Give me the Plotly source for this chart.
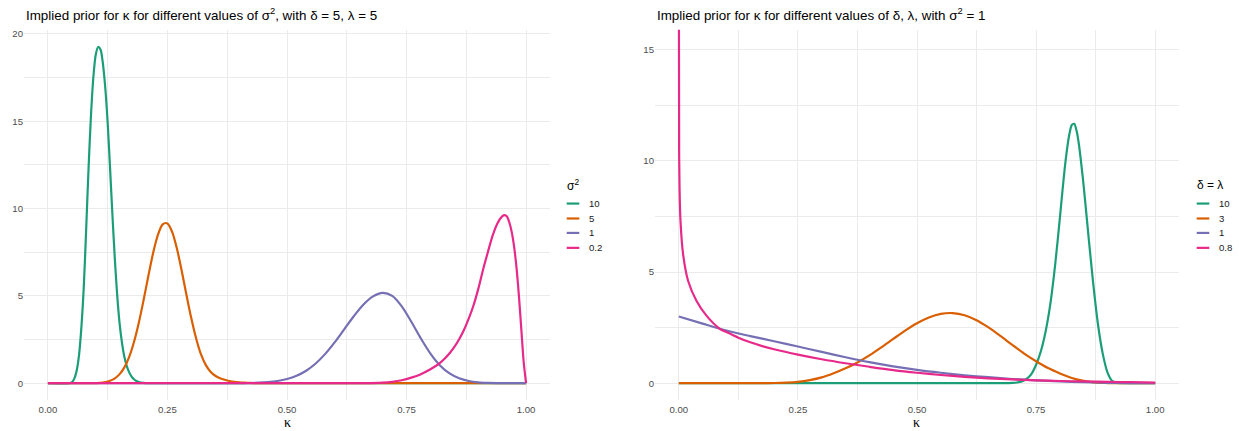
import plotly.graph_objects as go

# ---------------- data ----------------
# Left panel: delta = 5, lambda = 5, different sigma^2
left_names = ["10", "5", "1", "0.2"]
k_s10 = [0, 0.045, 0.05, 0.055, 0.06, 0.065, 0.07, 0.075, 0.08, 0.085, 0.09, 0.095, 0.10, 0.105,
         0.11, 0.115, 0.12, 0.125, 0.13, 0.135, 0.14, 0.145, 0.15, 0.155, 0.16, 0.165, 0.17,
         0.175, 0.18, 0.185, 0.19, 0.20, 0.21, 1.0]
d_s10 = [0, 0.0, 0.05, 0.25, 0.7, 1.6, 3.2, 5.5, 8.8, 12.3, 15.3, 17.5, 18.8, 19.25,
         19.1, 18.3, 16.9, 14.9, 12.3, 9.6, 7.1, 5.0, 3.4, 2.3, 1.5, 0.98, 0.62,
         0.38, 0.23, 0.13, 0.07, 0.02, 0.0, 0]
k_s5 = [0, 0.11, 0.12, 0.13, 0.14, 0.15, 0.16, 0.17, 0.18, 0.19, 0.20, 0.21, 0.22, 0.23, 0.24,
        0.25, 0.26, 0.27, 0.28, 0.29, 0.30, 0.31, 0.32, 0.33, 0.34, 0.35, 0.36, 0.37, 0.38,
        0.39, 0.40, 0.41, 0.42, 0.44, 0.46, 1.0]
d_s5 = [0, 0.02, 0.06, 0.14, 0.28, 0.52, 0.91, 1.51, 2.36, 3.45, 4.75, 6.14, 7.45, 8.49, 9.10,
        9.15, 8.65, 7.68, 6.41, 5.02, 3.70, 2.56, 1.66, 1.05, 0.66, 0.43, 0.29, 0.20, 0.13,
        0.08, 0.05, 0.03, 0.02, 0.005, 0.0, 0]
k_s1 = [0, 0.36, 0.40, 0.42, 0.44, 0.46, 0.48, 0.50, 0.52, 0.54, 0.56, 0.58, 0.60, 0.62, 0.64,
        0.66, 0.68, 0.70, 0.72, 0.74, 0.76, 0.78, 0.80, 0.82, 0.84, 0.86, 0.88, 0.90, 0.92,
        0.94, 0.96, 1.0]
d_s1 = [0, 0.0, 0.006, 0.013, 0.03, 0.064, 0.128, 0.241, 0.428, 0.717, 1.13, 1.68, 2.35, 3.10,
        3.85, 4.51, 4.97, 5.17, 5.00, 4.40, 3.52, 2.56, 1.70, 1.02, 0.56, 0.28, 0.127, 0.052,
        0.02, 0.007, 0.002, 0]
k_s02 = [0, 0.66, 0.70, 0.72, 0.74, 0.76, 0.78, 0.80, 0.81, 0.82, 0.83, 0.84, 0.85, 0.86, 0.87,
         0.88, 0.89, 0.90, 0.91, 0.92, 0.93, 0.94, 0.95, 0.955, 0.96, 0.965, 0.97, 0.975, 0.98,
         0.985, 0.99, 0.995, 1.0]
d_s02 = [0, 0.0, 0.03, 0.08, 0.17, 0.32, 0.52, 0.80, 0.97, 1.17, 1.42, 1.72, 2.08, 2.52, 3.05,
         3.70, 4.45, 5.40, 6.50, 7.50, 8.45, 9.15, 9.55, 9.62, 9.55, 9.20, 8.65, 7.80, 6.60,
         5.00, 3.10, 1.20, 0]

# Right panel: sigma^2 = 1, different delta = lambda
right_names = ["10", "3", "1", "0.8"]
k_d10 = [0, 0.68, 0.70, 0.71, 0.72, 0.73, 0.74, 0.75, 0.76, 0.77, 0.78, 0.79, 0.80, 0.805, 0.81,
         0.815, 0.82, 0.825, 0.83, 0.835, 0.84, 0.845, 0.85, 0.86, 0.87, 0.88, 0.89, 0.90, 0.91,
         0.92, 0.93, 0.95, 1.0]
d_d10 = [0, 0.0, 0.012, 0.034, 0.082, 0.193, 0.41, 0.83, 1.44, 2.33, 3.58, 5.33, 7.45, 8.57, 9.64,
         10.53, 11.22, 11.62, 11.67, 11.36, 10.73, 9.84, 8.85, 6.62, 4.47, 2.63, 1.32, 0.48, 0.098,
         0.013, 0.001, 0.0, 0]
k_d3 = [0, 0.15, 0.175, 0.20, 0.225, 0.25, 0.275, 0.30, 0.325, 0.35, 0.375, 0.40, 0.425, 0.45,
        0.475, 0.50, 0.525, 0.55, 0.575, 0.60, 0.625, 0.65, 0.675, 0.70, 0.725, 0.75, 0.775,
        0.80, 0.825, 0.85, 0.875, 0.90, 0.925, 0.95, 1.0]
d_d3 = [0, 0.001, 0.0035, 0.010, 0.025, 0.061, 0.139, 0.262, 0.449, 0.671, 0.936, 1.253, 1.613,
        1.993, 2.367, 2.70, 2.96, 3.12, 3.157, 3.06, 2.835, 2.511, 2.127, 1.722, 1.333, 0.988,
        0.681, 0.442, 0.237, 0.103, 0.030, 0.008, 0.001, 0.0, 0]
k_d1 = [0, 0.05, 0.1, 0.15, 0.2, 0.25, 0.3, 0.35, 0.4, 0.45, 0.5, 0.55, 0.6, 0.65, 0.7,
        0.75, 0.8, 0.85, 0.9, 0.95, 1.0]
d_d1 = [3.0, 2.68, 2.37, 2.12, 1.89, 1.65, 1.41, 1.17, 0.95, 0.76, 0.60, 0.47, 0.36, 0.27, 0.19,
        0.13, 0.08, 0.045, 0.02, 0.006, 0]
k_d08 = [0.0002, 0.0007, 0.0015, 0.0035, 0.009, 0.0196, 0.037, 0.058, 0.086, 0.1, 0.125, 0.15,
         0.175, 0.2, 0.25, 0.3, 0.35, 0.4, 0.45, 0.5, 0.55, 0.6, 0.65, 0.7, 0.75, 0.8, 0.85, 0.9,
         0.95, 1.0]
d_d08 = [17.0, 10.3, 8.8, 7.3, 5.8, 4.6, 3.71, 3.04, 2.45, 2.30, 2.05, 1.84,
         1.67, 1.53, 1.29, 1.08, 0.90, 0.74, 0.59, 0.47, 0.37, 0.29, 0.22, 0.17, 0.13, 0.1, 0.08,
         0.06, 0.045, 0.03]

x_ticks = [0, 0.25, 0.5, 0.75, 1.0]
x_ticklabels = ["0.00", "0.25", "0.50", "0.75", "1.00"]
left_yticks = [0, 5, 10, 15, 20]
right_yticks = [0, 5, 10, 15]

colors = ["#1B9E77", "#D95F02", "#7570B3", "#E7298A"]

# ---------------- figure ----------------
W, H = 1239, 431
def px_x(p):
    return p / W
def px_y(p):
    return 1 - p / H

fig = go.Figure()
left_series = [(k_s10, d_s10), (k_s5, d_s5), (k_s1, d_s1), (k_s02, d_s02)]
right_series = [(k_d10, d_d10), (k_d3, d_d3), (k_d1, d_d1), (k_d08, d_d08)]
for (k, d), name, c in zip(left_series, left_names, colors):
    fig.add_trace(go.Scatter(x=k, y=d, mode="lines", name=name,
                             line=dict(color=c, width=2.2, shape="spline", smoothing=0.8),
                             xaxis="x", yaxis="y", showlegend=False))
for (k, d), name, c in zip(right_series, right_names, colors):
    fig.add_trace(go.Scatter(x=k, y=d, mode="lines", name=name,
                             line=dict(color=c, width=2.2, shape="spline", smoothing=0.8),
                             xaxis="x2", yaxis="y2", showlegend=False))

grid = "#EBEBEB"
sans = "Liberation Sans, Arial, sans-serif"
tickfont = dict(family=sans, size=9.6, color="#4D4D4D")
xcommon = dict(range=[-0.05, 1.05], tickvals=x_ticks, ticktext=x_ticklabels, showgrid=True,
               gridcolor=grid, gridwidth=1.1, zeroline=False, showline=False, ticks="",
               tickfont=tickfont, ticklabelstandoff=2,
               minor=dict(tickvals=[0.125, 0.375, 0.625, 0.875], showgrid=True, gridcolor=grid,
                          gridwidth=0.55))
ydom = [px_y(400), px_y(28)]
fig.update_layout(
    width=W, height=H, margin=dict(l=0, r=0, t=0, b=0),
    paper_bgcolor="white", plot_bgcolor="white", showlegend=False,
    xaxis=dict(domain=[px_x(24), px_x(550)], anchor="y", **xcommon),
    xaxis2=dict(domain=[px_x(655), px_x(1179)], anchor="y2", **xcommon),
    yaxis=dict(domain=ydom, anchor="x", range=[(383 - 400) / 17.55, (383 - 28) / 17.55],
               tickvals=left_yticks, showgrid=True, gridcolor=grid, gridwidth=1.1, zeroline=False,
               ticks="", tickfont=tickfont,
               minor=dict(tickvals=[2.5, 7.5, 12.5, 17.5], showgrid=True, gridcolor=grid,
                          gridwidth=0.55)),
    yaxis2=dict(domain=ydom, anchor="x2", range=[(383 - 400) / 22.33, (383 - 28) / 22.33],
                tickvals=right_yticks, showgrid=True, gridcolor=grid, gridwidth=1.1, zeroline=False,
                ticks="", tickfont=tickfont,
                minor=dict(tickvals=[2.5, 7.5, 12.5], showgrid=True, gridcolor=grid,
                           gridwidth=0.55)),
    font=dict(family=sans),
)

# titles
titlefont = dict(family=sans, size=13.4, color="black")
fig.add_annotation(text="Implied prior for κ for different values of σ<sup>2</sup>, with δ = 5, λ = 5",
                   xref="paper", yref="paper", x=px_x(24), y=px_y(13), xanchor="left",
                   yanchor="middle", showarrow=False, font=titlefont)
fig.add_annotation(text="Implied prior for κ for different values of δ, λ, with σ<sup>2</sup> = 1",
                   xref="paper", yref="paper", x=px_x(655), y=px_y(13), xanchor="left",
                   yanchor="middle", showarrow=False, font=titlefont)
# axis titles
axfont = dict(family="Liberation Serif, serif", size=14, color="black")
for cx in (287, 917):
    fig.add_annotation(text="κ", xref="paper", yref="paper", x=px_x(cx), y=px_y(422),
                       xanchor="center", yanchor="middle", showarrow=False, font=axfont)

# legends (key lines + labels)
legfont = dict(family=sans, size=9.6, color="#1A1A1A")
legtitlefont = dict(family=sans, size=12, color="black")
entry_y = [202.5, 217.5, 232, 247]
legends = [
    ("σ<sup>2</sup>", 565, 566.7, 579.3, 586.5, left_names),
    ("δ = λ", 1195, 1196.7, 1209.3, 1216.7, right_names),
]
for title, tx, kx0, kx1, lx, names in legends:
    fig.add_annotation(text=title, xref="paper", yref="paper", x=px_x(tx), y=px_y(184),
                       xanchor="left", yanchor="middle", showarrow=False, font=legtitlefont)
    for ey, name, c in zip(entry_y, names, colors):
        fig.add_shape(type="line", xref="paper", yref="paper", x0=px_x(kx0), x1=px_x(kx1),
                      y0=px_y(ey), y1=px_y(ey), line=dict(color=c, width=2.2))
        fig.add_annotation(text=name, xref="paper", yref="paper", x=px_x(lx), y=px_y(ey),
                           xanchor="left", yanchor="middle", showarrow=False, font=legfont)

fig.write_html("out.html", config={"displayModeBar": False},
               post_script="document.body.style.margin='0';document.body.style.overflow='hidden';")
